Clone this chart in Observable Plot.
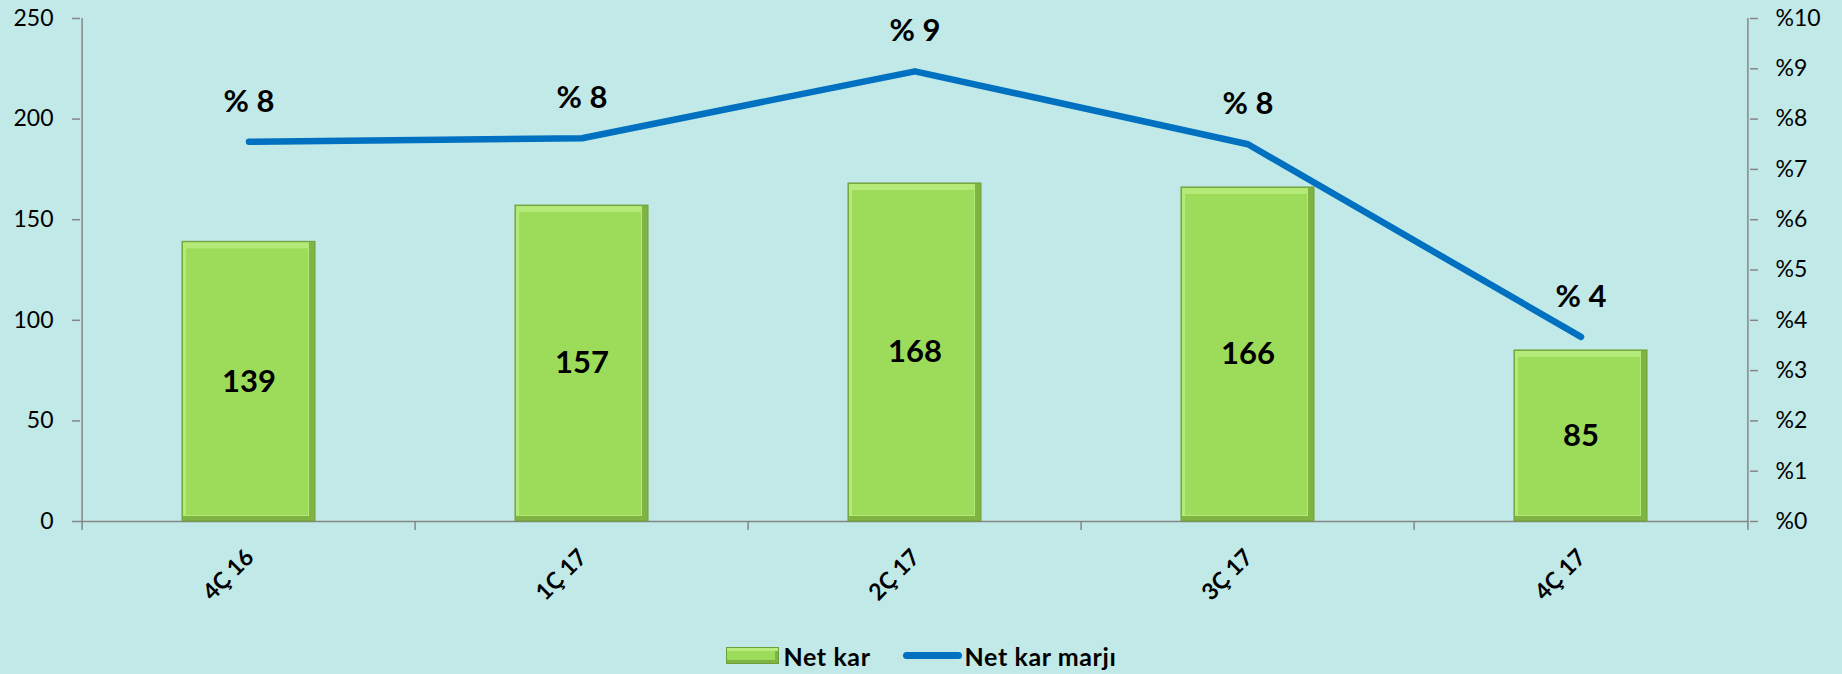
<!DOCTYPE html>
<html><head><meta charset="utf-8">
<script src="https://cdn.jsdelivr.net/npm/d3@7"></script>
<script src="https://cdn.jsdelivr.net/npm/@observablehq/plot@0.6"></script>
<style>
html,body{margin:0;padding:0;background:#C0E9E7;width:1842px;height:674px;overflow:hidden;font-family:Lato,"Open Sans",sans-serif}
#chart svg{display:block}
#legend{height:49px;display:flex;justify-content:center;align-items:center;font-weight:bold;font-size:25px;letter-spacing:0.6px;color:#000;padding-top:12px;box-sizing:border-box}
.sw-bar{display:inline-block;width:51px;height:15px;background:#9DDC5A;border:1px solid #6E9E3A;box-shadow:inset 0 3px 0 #B8EC7E, inset -3px -3px 0 #7FB443;margin-right:5px}
.sw-line{display:inline-block;width:59px;height:7px;border-radius:4px;background:#0070C0;margin-left:32px;margin-right:3px}
</style></head><body>
<div id="chart"></div>
<div id="legend"><span class="sw-bar"></span><span>Net kar</span><span class="sw-line"></span><span>Net kar marjı</span></div>
<script>
const quarters = ["4Ç 16", "1Ç 17", "2Ç 17", "3Ç 17", "4Ç 17"];
const netKar = [139, 157, 168, 166, 85];
const netKarMarji = [7.55, 7.62, 8.95, 7.5, 3.67];
const leftTicks = [0, 50, 100, 150, 200, 250];
const rightTicks = [0, 1, 2, 3, 4, 5, 6, 7, 8, 9, 10];

const data = quarters.map((q, i) => ({q, v: netKar[i], m: netKarMarji[i]}));
const W = 1842, H = 625, mL = 80, mR = 93, mT = 18, mB = 104;
const step = (W - mL - mR) / quarters.length;
const K = 250 / 10; // right axis (%) onto left axis scale
const axisGray = "#868686";

const chart = Plot.plot({
  width: W, height: H,
  marginLeft: mL, marginRight: mR, marginTop: mT, marginBottom: mB,
  style: {background: "transparent", fontFamily: "Lato, 'Open Sans', sans-serif", color: "#000"},
  x: {domain: quarters, paddingInner: 0.6, paddingOuter: 0.3, axis: null},
  y: {domain: [0, 250], axis: null},
  marks: [
    Plot.axisY(leftTicks, {anchor: "left", label: null, tickSize: 8, tickPadding: 19, fontSize: 23, stroke: axisGray, strokeWidth: 1.5, fill: "#000", tickFormat: d => String(d)}),
    Plot.axisY(rightTicks.map(d => d * K), {anchor: "right", label: null, tickSize: 8, tickPadding: 18, fontSize: 23, stroke: axisGray, strokeWidth: 1.5, fill: "#000", tickFormat: d => "%" + Math.round(d / K)}),
    Plot.ruleY([0], {stroke: axisGray, strokeWidth: 1.5}),
    Plot.ruleX([quarters[0]], {x: d => d, dx: -step / 2, y1: 250, y2: 0, insetBottom: -9, stroke: axisGray, strokeWidth: 1.5}),
    Plot.ruleX([quarters[quarters.length - 1]], {x: d => d, dx: step / 2, y1: 250, y2: 0, insetBottom: -9, stroke: axisGray, strokeWidth: 1.5}),
    Plot.ruleX(quarters.slice(1), {x: d => d, dx: -step / 2, y1: 0, y2: 0, insetBottom: -9, stroke: axisGray, strokeWidth: 1.5}),
    // bevelled bars
    Plot.barY(data, {x: "q", y: "v", fill: "#7FB443", stroke: "#6E9E3A", strokeWidth: 1}),
    Plot.barY(data, {x: "q", y: "v", fill: "#B4EA78", insetRight: 6, insetBottom: 5, insetTop: 1, insetLeft: 1}),
    Plot.barY(data, {x: "q", y: "v", fill: "#9DDC5A", insetTop: 7, insetRight: 7, insetBottom: 6, insetLeft: 4}),
    Plot.text(data, {x: "q", y: d => d.v / 2, text: d => String(d.v), fontSize: 31, fontWeight: "bold", fill: "#000"}),
    Plot.line(data, {x: "q", y: d => d.m * K, stroke: "#0070C0", strokeWidth: 6.5, strokeLinecap: "round", strokeLinejoin: "round"}),
    Plot.text(data, {x: "q", y: d => d.m * K, text: d => "% " + Math.round(d.m), dy: -40, fontSize: 31, fontWeight: "bold", fill: "#000"}),
    Plot.text(quarters, {x: d => d, y: 0, text: d => d, rotate: -45, textAnchor: "end", dy: 32, dx: 1, fontSize: 23, fontWeight: "bold", fill: "#000"})
  ]
});
document.getElementById("chart").appendChild(chart);
</script>
</body></html>
